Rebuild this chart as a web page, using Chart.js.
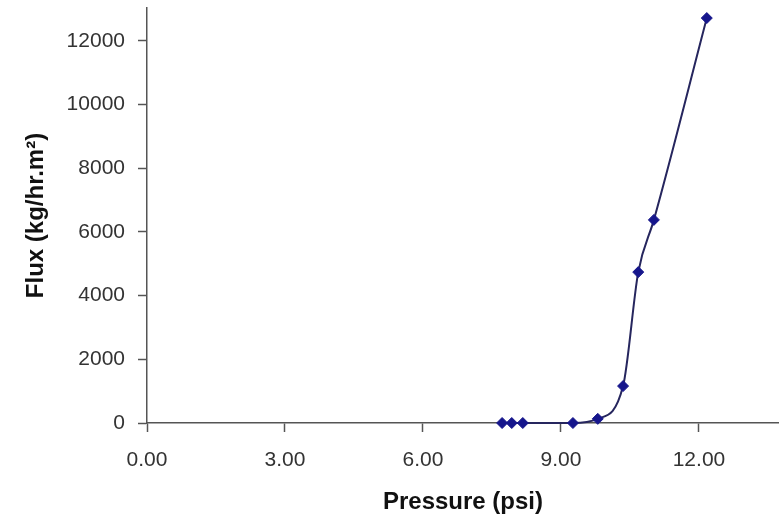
<!DOCTYPE html>
<html>
<head>
<meta charset="utf-8">
<script src="https://cdn.jsdelivr.net/npm/chart.js@4/dist/chart.umd.min.js"></script>
<style>
  html, body { margin: 0; padding: 0; background: #fff; }
  #chart { display: block; }
</style>
</head>
<body>
<canvas id="chart" width="779" height="517"></canvas>
<script>
// values
const pressure = [7.72, 7.93, 8.17, 9.26, 9.80, 10.35, 10.68, 11.02, 12.17];
const flux = [0, 0, 0, 0, 130, 1160, 4740, 6380, 12720];
const xTicks = [0, 3, 6, 9, 12];
const yTicks = [0, 2000, 4000, 6000, 8000, 10000, 12000];

const axisColor = '#555';
const textColor = '#333';

const points = pressure.map((p, i) => ({ x: p, y: flux[i] }));

new Chart(document.getElementById('chart').getContext('2d'), {
    type: 'scatter',
    data: {
        datasets: [{
            data: points,
            showLine: true,
            borderColor: '#26265e',
            borderWidth: 2,
            cubicInterpolationMode: 'monotone',
            pointStyle: 'rectRot',
            pointRadius: 5.5,
            pointBackgroundColor: '#16168c',
            pointBorderColor: '#16168c',
            pointBorderWidth: 1,
            clip: false
        }]
    },
    options: {
        responsive: false,
        animation: false,
        layout: { autoPadding: false, padding: { top: 8, right: 0, bottom: 0, left: 0 } },
        plugins: {
            legend: { display: false },
            tooltip: { enabled: false }
        },
        scales: {
            x: {
                type: 'linear',
                min: 0,
                max: 13.74,
                afterBuildTicks: (scale) => {
                    scale.ticks = xTicks.map(v => ({ value: v }));
                },
                afterFit: (scale) => {
                    scale.height = 94;
                    scale.paddingLeft = 0;
                    scale.paddingRight = 0;
                },
                grid: {
                    drawOnChartArea: false,
                    color: axisColor,
                    tickLength: 9,
                    tickWidth: 1.5
                },
                border: { color: axisColor, width: 1.5 },
                ticks: {
                    padding: 16,
                    color: textColor,
                    font: { family: 'Liberation Sans', size: 21 },
                    callback: (v) => Number(v).toFixed(2)
                },
                title: {
                    display: true,
                    text: 'Pressure (psi)',
                    color: '#111',
                    padding: { top: 0, bottom: 0 },
                    font: { family: 'Liberation Sans', size: 24, weight: 'bold' }
                }
            },
            y: {
                type: 'linear',
                min: 0,
                max: 13036,
                afterBuildTicks: (scale) => {
                    scale.ticks = yTicks.map(v => ({ value: v }));
                },
                afterFit: (scale) => {
                    scale.width = 147;
                    scale.paddingTop = 0;
                    scale.paddingBottom = 0;
                },
                grid: {
                    drawOnChartArea: false,
                    color: axisColor,
                    tickLength: 9,
                    tickWidth: 1.5
                },
                border: { color: axisColor, width: 1.5 },
                ticks: {
                    padding: 13,
                    color: textColor,
                    font: { family: 'Liberation Sans', size: 21 },
                    callback: (v) => String(v)
                },
                title: {
                    display: true,
                    text: 'Flux (kg/hr.m²)',
                    color: '#111',
                    padding: { top: 22, bottom: 0 },
                    font: { family: 'Liberation Sans', size: 24, weight: 'bold' }
                }
            }
        }
    }
});
</script>
</body>
</html>
